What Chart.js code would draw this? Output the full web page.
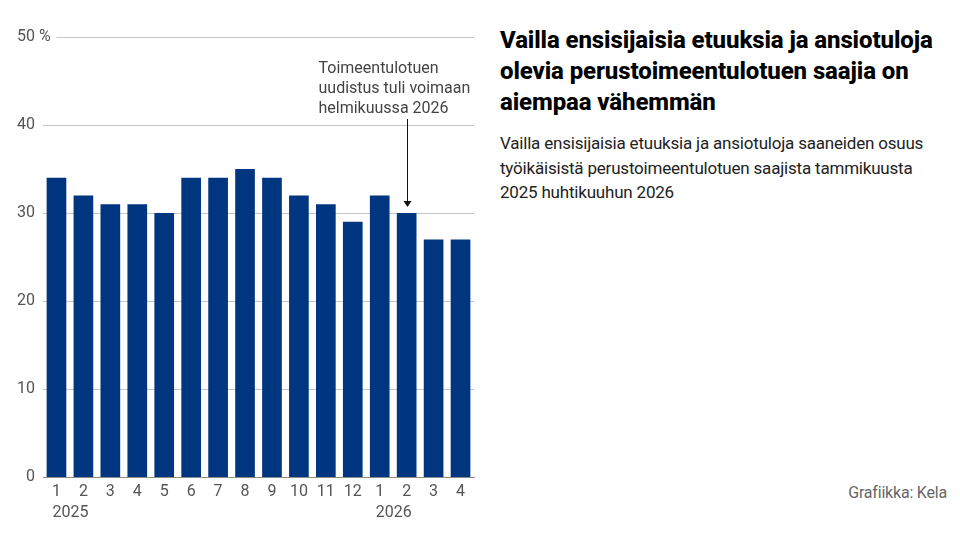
<!DOCTYPE html>
<html>
<head>
<meta charset="utf-8">
<script src="https://cdn.jsdelivr.net/npm/chart.js@4/dist/chart.umd.min.js"></script>
<style>
  body { margin: 0; background: #fff; font-family: Roboto, sans-serif; }
  #wrap { position: relative; width: 960px; height: 538px; overflow: hidden; }
  #box { position: absolute; left: 0; top: 0; width: 480px; height: 538px; }
  h1 { position: absolute; left: 500px; top: 25px; margin: 0; font-size: 24px; line-height: 31px;
       font-weight: 800; letter-spacing: -0.1px; color: #000; }
  p.sub { position: absolute; left: 500px; top: 131px; margin: 0; font-size: 17px; line-height: 24.5px;
       letter-spacing: -0.2px; color: #222; }
  p.credit { position: absolute; right: 13px; top: 483px; margin: 0; font-size: 16px; color: #666; letter-spacing: -0.2px; }
</style>
</head>
<body>
<div id="wrap">
  <div id="box"><canvas id="myChart" width="480" height="538"></canvas></div>
  <h1>Vailla ensisijaisia etuuksia ja ansiotuloja<br>olevia perustoimeentulotuen saajia on<br>aiempaa vähemmän</h1>
  <p class="sub">Vailla ensisijaisia etuuksia ja ansiotuloja saaneiden osuus<br>työikäisistä perustoimeentulotuen saajista tammikuusta<br>2025 huhtikuuhun 2026</p>
  <p class="credit">Grafiikka: Kela</p>
</div>
<script>
/* kuukaudet ja osuudet (%) */
const months = ['1', '2', '3', '4', '5', '6', '7', '8', '9', '10', '11', '12', '1', '2', '3', '4'];
const years = ['2025', '', '', '', '', '', '', '', '', '', '', '', '2026', '', '', ''];
const shares = [34, 32, 31, 31, 30, 34, 34, 35, 34, 32, 31, 29, 32, 30, 27, 27];
const yTicks = [0, 10, 20, 30, 40, 50];
const noteLines = ['Toimeentulotuen', 'uudistus tuli voimaan', 'helmikuussa 2026'];
const noteIndex = 13; // helmikuu 2026

const tickFont = { family: 'Roboto', size: 16 };

/* oma piirto: apuviivat, %-merkki, vuodet ja huomautus */
const extras = {
      id: 'extras',
      beforeDatasetsDraw(chart) {
            const { ctx, chartArea, scales: { x, y } } = chart;
            ctx.save();
            ctx.font = '16px Roboto';
            ctx.lineWidth = 1;
            ctx.strokeStyle = '#c6c6c6';
            yTicks.forEach((v) => {
                  if (v === 0) return;
                  const py = Math.round(y.getPixelForValue(v)) + 0.5;
                  let x0 = chartArea.left;
                  if (v === yTicks[yTicks.length - 1]) {
                        x0 = chartArea.left - 8 + ctx.measureText(' %').width + 6;
                  }
                  ctx.beginPath();
                  ctx.moveTo(x0, py);
                  ctx.lineTo(chartArea.right, py);
                  ctx.stroke();
            });
            ctx.restore();
      },
      afterDraw(chart) {
            const { ctx, chartArea, scales: { x, y } } = chart;
            ctx.save();
            ctx.font = '16px Roboto';
            ctx.fillStyle = '#555';
            ctx.textBaseline = 'middle';
            // %-merkki ylimmän luvun perään
            const topY = y.getPixelForValue(yTicks[yTicks.length - 1]);
            ctx.textAlign = 'left';
            ctx.fillText(' %', chartArea.left - 8, topY);

            // vuodet ensimmäisen kuukauden alle
            years.forEach((yr, i) => {
                  if (!yr) return;
                  ctx.fillText(yr, x.getPixelForValue(i) - 4, 513);
            });

            // huomautus ja nuoli
            const ax = Math.round(x.getPixelForValue(noteIndex)) + 0.5;
            ctx.font = '16px Roboto';
            ctx.fillStyle = '#444';
            ctx.textBaseline = 'alphabetic';
            noteLines.forEach((t, i) => ctx.fillText(t, ax - 89, 73 + i * 20));
            const tipY = y.getPixelForValue(shares[noteIndex]) - 6;
            ctx.strokeStyle = '#111';
            ctx.beginPath();
            ctx.moveTo(ax, 119);
            ctx.lineTo(ax, tipY - 5);
            ctx.stroke();
            ctx.fillStyle = '#111';
            ctx.beginPath();
            ctx.moveTo(ax - 4, tipY - 6);
            ctx.lineTo(ax + 4, tipY - 6);
            ctx.lineTo(ax, tipY);
            ctx.closePath();
            ctx.fill();
            ctx.restore();
      }
};

const canvaNode = document.getElementById('myChart');
chart = new Chart(canvaNode, {
      type: 'bar',
      data: {
            labels: months,
            datasets: [{
                  data: shares,
                  backgroundColor: '#003580',
                  barPercentage: 0.73,
                  categoryPercentage: 1.0
            }]
      },
      options: {
            responsive: false,
            animation: false,
            layout: { padding: { top: 37, right: 6, left: 0, bottom: 0 } },
            plugins: { legend: { display: false }, tooltip: { enabled: false } },
            scales: {
                  x: {
                        grid: { display: false, drawTicks: false },
                        border: { color: '#8a8a8a', width: 1 },
                        ticks: { color: '#555', font: tickFont, padding: 5, maxRotation: 0, autoSkip: false },
                        afterFit: (s) => { s.height = 61; }
                  },
                  y: {
                        min: 0, max: 50,
                        afterBuildTicks: (s) => { s.ticks = yTicks.map(v => ({ value: v })); },
                        grid: { display: false, drawTicks: false },
                        border: { display: false },
                        ticks: { color: '#555', font: tickFont, padding: 8 },
                        afterFit: (s) => { s.width = 43; }
                  }
            }
      },
      plugins: [extras]
});
</script>
</body>
</html>
